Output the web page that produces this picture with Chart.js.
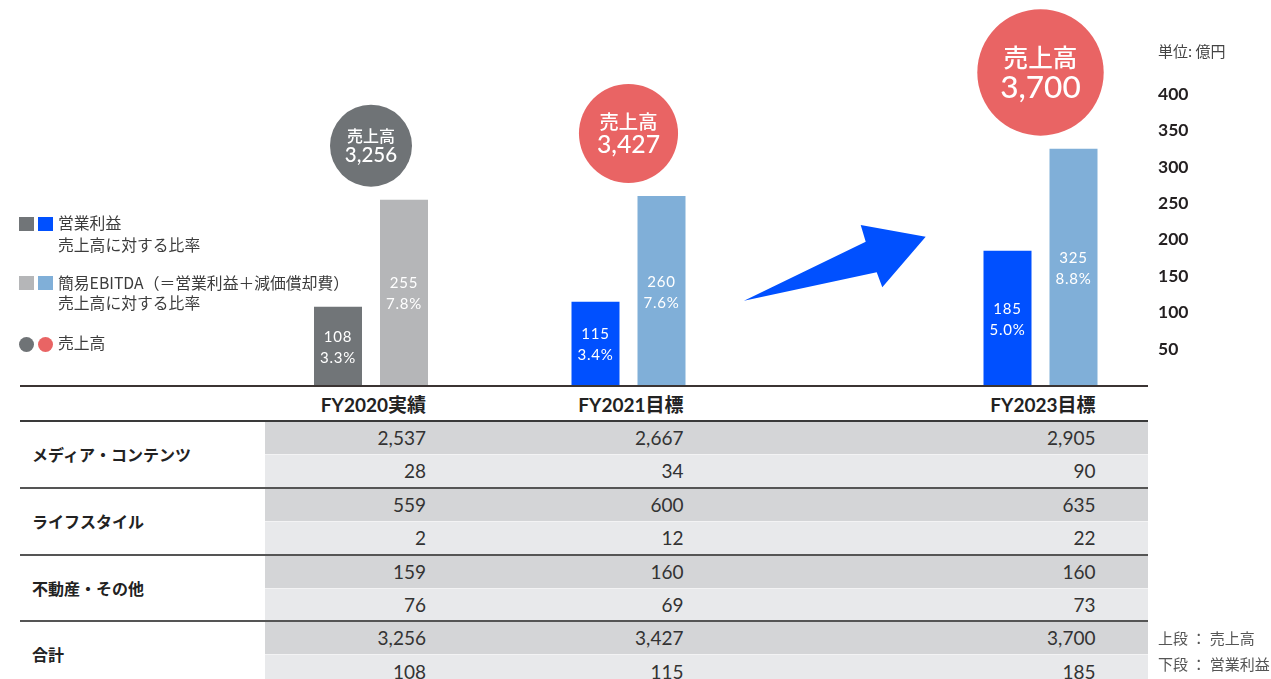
<!DOCTYPE html>
<html lang="ja">
<head>
<meta charset="utf-8">
<script src="https://cdn.jsdelivr.net/npm/chart.js@4.4.1/dist/chart.umd.min.js"></script>
<style>
html,body{margin:0;padding:0;background:#fff;overflow:hidden;}
#wrap{position:relative;width:1271px;height:679px;overflow:hidden;font-family:Lato,"Noto Sans CJK JP",sans-serif;color:#333;}
#c{position:absolute;left:0;top:0;}
.abs{position:absolute;white-space:nowrap;}
.lg{font-size:15.8px;line-height:20px;color:#3c3c3c;font-family:"Noto Sans CJK JP",sans-serif;}
.sq{position:absolute;width:15px;height:14px;}
.dot{position:absolute;width:15px;height:15px;border-radius:50%;}
.note{font-size:15px;line-height:20px;color:#555;font-family:"Noto Sans CJK JP",sans-serif;}
.hdr{font-size:19px;font-weight:700;color:#222;line-height:36px;text-align:right;}
.rowlab{font-size:16px;font-weight:700;color:#222;font-family:"Noto Sans CJK JP",sans-serif;}
.num{font-size:19px;color:#333;text-align:right;}
</style>
</head>
<body>
<div id="wrap">
  <div id="table"></div>
  <canvas id="c" width="1271" height="679"></canvas>
  <div id="overlay">
    <div class="sq" style="left:19px;top:217px;background:#717578"></div>
    <div class="sq" style="left:38px;top:217px;background:#0050ff"></div>
    <div class="abs lg" style="left:58px;top:213px">営業利益</div>
    <div class="abs lg" style="left:58px;top:235px">売上高に対する比率</div>
    <div class="sq" style="left:19px;top:276px;background:#b5b6b8"></div>
    <div class="sq" style="left:38px;top:276px;background:#80afd8"></div>
    <div class="abs lg" style="left:58px;top:273px">簡易EBITDA（＝営業利益＋減価償却費）</div>
    <div class="abs lg" style="left:58px;top:293px">売上高に対する比率</div>
    <div class="dot" style="left:19px;top:336.5px;background:#6f7376"></div>
    <div class="dot" style="left:38px;top:336.5px;background:#e96464"></div>
    <div class="abs lg" style="left:58px;top:333px">売上高</div>
    <div class="abs note" style="left:1158px;top:41px;color:#444">単位: 億円</div>
    <div class="abs note" style="left:1158px;top:628px">上段 ： 売上高</div>
    <div class="abs note" style="left:1158px;top:654px">下段 ： 営業利益</div>
  </div>
</div>
<script>
// ---- data ----
const categories = ['FY2020実績', 'FY2021目標', 'FY2023目標'];
const sales = [3256, 3427, 3700];
const opProfit = [108, 115, 185];
const opMargin = [3.3, 3.4, 5.0];
const ebitda = [255, 260, 325];
const ebitdaMargin = [7.8, 7.6, 8.8];
const yTickValues = [50, 100, 150, 200, 250, 300, 350, 400];
const segmentNames = ['メディア・コンテンツ', 'ライフスタイル', '不動産・その他'];
const segmentSales = [[2537, 2667, 2905], [559, 600, 635], [159, 160, 160]];
const segmentProfit = [[28, 34, 90], [2, 12, 22], [76, 69, 73]];
const totalLabel = '合計';
const salesLabel = '売上高';

// ---- layout / style ----
const SLOT_OF = [0, 5, 13];
const SLOT_COUNT = 14;
const profitColors = ['#717578', '#0050ff', '#0050ff'];
const ebitdaColors = ['#b5b6b8', '#80afd8', '#80afd8'];
const circleColors = ['#6f7376', '#e96464', '#e96464'];

const slotLabels = Array(SLOT_COUNT).fill('');
const profitSlots = Array(SLOT_COUNT).fill(null);
const ebitdaSlots = Array(SLOT_COUNT).fill(null);
const profitBg = Array(SLOT_COUNT).fill('transparent');
const ebitdaBg = Array(SLOT_COUNT).fill('transparent');
categories.forEach((c, i) => {
  const s = SLOT_OF[i];
  slotLabels[s] = c;
  profitSlots[s] = opProfit[i];
  ebitdaSlots[s] = ebitda[i];
  profitBg[s] = profitColors[i];
  ebitdaBg[s] = ebitdaColors[i];
});

const fmt = v => v.toLocaleString('en-US');

const decor = {
  id: 'decor',
  afterDatasetsDraw(chart) {
    const ctx = chart.ctx, xs = chart.scales.x, ys = chart.scales.y;
    const base = ys.getPixelForValue(0);
    ctx.save();
    // baseline
    ctx.strokeStyle = '#3b3433';
    ctx.lineWidth = 2;
    ctx.beginPath();
    ctx.moveTo(20, base + 0.5);
    ctx.lineTo(1148, base + 0.5);
    ctx.stroke();
    // bar labels
    ctx.fillStyle = '#ffffff';
    ctx.textAlign = 'center';
    ctx.textBaseline = 'middle';
    ctx.font = '15px Lato, "Noto Sans CJK JP", sans-serif';
    try { ctx.letterSpacing = '0.8px'; } catch (e) {}
    [[opProfit, opMargin], [ebitda, ebitdaMargin]].forEach(([vals, margins], di) => {
      const meta = chart.getDatasetMeta(di);
      categories.forEach((c, i) => {
        const el = meta.data[SLOT_OF[i]];
        const mid = (el.y + el.base) / 2 + 1.5;
        ctx.fillText(String(vals[i]), el.x, mid - 10.5);
        ctx.fillText(margins[i].toFixed(1) + '%', el.x, mid + 10.5);
      });
    });
    try { ctx.letterSpacing = '0px'; } catch (e) {}
    // sales circles
    const sMin = Math.min(...sales);
    categories.forEach((c, i) => {
      const cx = xs.getPixelForValue(SLOT_OF[i]);
      const top = ys.getPixelForValue(Math.max(opProfit[i], ebitda[i]));
      const r = 41 + (sales[i] - sMin) * 0.05;
      const cy = top - 13 - r;
      ctx.fillStyle = circleColors[i];
      ctx.beginPath();
      ctx.arc(cx, cy, r, 0, Math.PI * 2);
      ctx.fill();
      ctx.fillStyle = '#ffffff';
      ctx.font = '500 ' + (r * 0.39).toFixed(1) + 'px "Noto Sans CJK JP", sans-serif';
      ctx.fillText(salesLabel, cx, cy - 0.24 * r);
      ctx.font = '500 ' + (r * 0.5).toFixed(1) + 'px Lato, sans-serif';
      ctx.fillText(fmt(sales[i]), cx, cy + 0.24 * r);
    });
    // arrow between FY2021 and FY2023
    const mx = (xs.getPixelForValue(SLOT_OF[1]) + xs.getPixelForValue(SLOT_OF[2])) / 2;
    const pts = [[-90.5, -84.8], [31.2, -143.8], [26.2, -160.5], [91.2, -148.8], [47.8, -98.2], [42.2, -113.2]];
    ctx.fillStyle = '#0050ff';
    ctx.beginPath();
    pts.forEach(([dx, dy], k) => {
      if (k === 0) ctx.moveTo(mx + dx, base + dy); else ctx.lineTo(mx + dx, base + dy);
    });
    ctx.closePath();
    ctx.fill();
    ctx.restore();
  }
};

const chart = new Chart(document.getElementById('c'), {
  type: 'bar',
  data: {
    labels: slotLabels,
    datasets: [
      { label: '営業利益', data: profitSlots, backgroundColor: profitBg, clip: false },
      { label: '簡易EBITDA', data: ebitdaSlots, backgroundColor: ebitdaBg, clip: false }
    ]
  },
  options: {
    responsive: false,
    devicePixelRatio: 1,
    animation: false,
    categoryPercentage: 132 / 51.5,
    barPercentage: 48 / 66,
    layout: { padding: { top: 94, bottom: 293.5, left: 345.25, right: 0 } },
    plugins: { legend: { display: false }, tooltip: { enabled: false } },
    scales: {
      x: { display: false },
      y: {
        position: 'right',
        min: 0, max: 400,
        afterBuildTicks: s => { s.ticks = yTickValues.map(v => ({ value: v })); },
        afterFit: s => { s.width = 1271 - 1066.25; s.paddingTop = 10; s.paddingBottom = 10; },
        grid: { display: false, drawTicks: false },
        border: { display: false },
        ticks: {
          padding: 1158 - 1066.25,
          color: '#231f20',
          font: { family: 'Lato, sans-serif', size: 17.5, weight: 'bold' }
        }
      }
    }
  },
  plugins: [decor]
});

// ---- table ----
(function buildTable() {
  const t = document.getElementById('table');
  const meta = chart.getDatasetMeta(1);
  const colRight = categories.map((c, i) => {
    const el = meta.data[SLOT_OF[i]];
    return el.x + el.width / 2 - 2;
  });
  const add = (html, style, cls) => {
    const d = document.createElement('div');
    d.className = 'abs ' + (cls || '');
    d.style.cssText = style;
    d.textContent = html;
    t.appendChild(d);
    return d;
  };
  categories.forEach((c, i) => {
    add(c, `right:${1271 - colRight[i]}px;top:387px;height:36px;`, 'hdr');
  });
  const groups = segmentNames.map((n, g) => ({ name: n, a: segmentSales[g], b: segmentProfit[g] }))
    .concat([{ name: totalLabel, a: sales, b: opProfit }]);
  const TOP = 421, GH = 66.8, SH = GH / 2;
  groups.forEach((gr, g) => {
    const y0 = TOP + g * GH;
    add('', `left:265px;top:${y0}px;width:883px;height:${SH}px;background:#d4d5d7;`);
    add('', `left:265px;top:${y0 + SH}px;width:883px;height:${SH}px;background:#e8e9eb;`);
    add('', `left:265px;top:${y0 + SH - 0.5}px;width:883px;height:1px;background:#f3f3f4;`);
    add('', `left:20px;top:${y0 - 1}px;width:1128px;height:2px;background:${g === 0 ? '#3a3a3a' : '#555'};`);
    add(gr.name, `left:32px;top:${y0}px;height:${GH}px;line-height:${GH}px;`, 'rowlab');
    categories.forEach((c, i) => {
      add(fmt(gr.a[i]), `right:${1271 - colRight[i]}px;top:${y0}px;height:${SH}px;line-height:${SH}px;`, 'num');
      add(fmt(gr.b[i]), `right:${1271 - colRight[i]}px;top:${y0 + SH}px;height:${SH}px;line-height:${SH}px;`, 'num');
    });
  });
})();
</script>
</body>
</html>
